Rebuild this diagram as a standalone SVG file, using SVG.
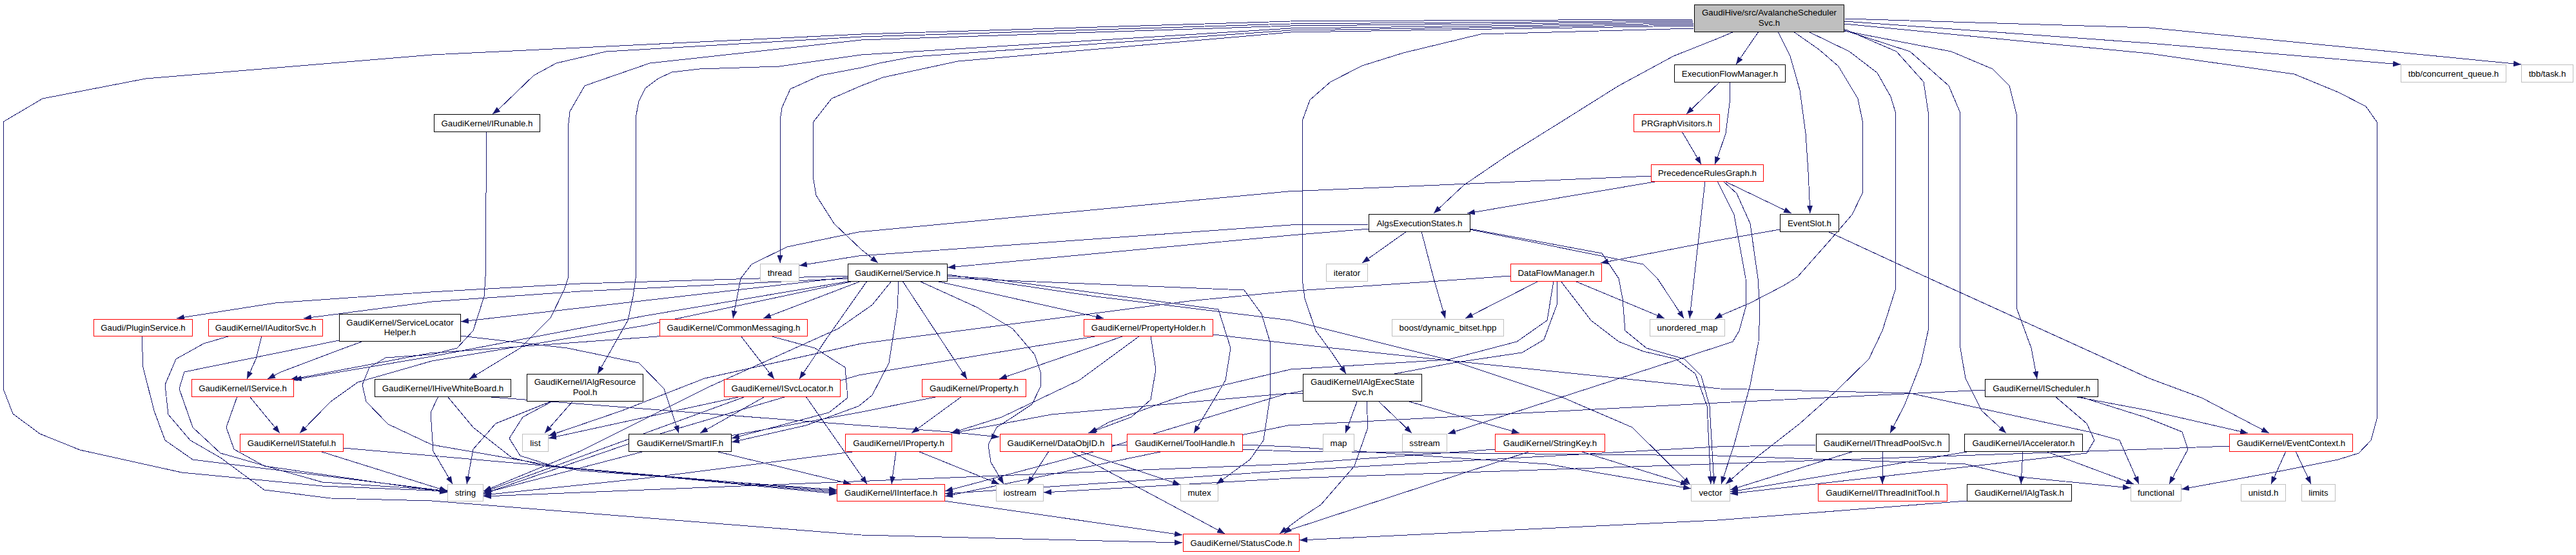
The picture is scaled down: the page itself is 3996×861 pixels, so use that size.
<svg xmlns="http://www.w3.org/2000/svg" width="3996" height="861" viewBox="0 0 3996 861">
<style>
.bk{fill:#fff;stroke:#000;stroke-width:1}
.rd{fill:#fff;stroke:#ff0000;stroke-width:1}
.gy{fill:#fff;stroke:#bfbfbf;stroke-width:1}
.mn{fill:#bfbfbf;stroke:#000;stroke-width:1}
text{font-family:"Liberation Sans",Arial,Helvetica,sans-serif;font-size:13.3px;fill:#000;text-anchor:middle}
#edges path{fill:none;stroke:#191970;stroke-width:1;stroke-linejoin:round;shape-rendering:crispEdges;marker-end:url(#a)}
</style>
<defs>
<marker id="a" viewBox="0 0 12 9" refX="12" refY="4.5" markerWidth="12" markerHeight="9" markerUnits="userSpaceOnUse" orient="auto"><path d="M0,0 L12,4.5 L0,9 z" fill="#191970"/></marker>
</defs>
<rect width="3996" height="861" fill="#fff"/>
<g id="edges">
<path d="M2628,30 L2002,33 L1336,53 L670,85 L226,122 L66,153 L5,189 L5,603 L20,642 L62,673 L124,698 L282,733 L500,754 L694,762"/>
<path d="M2628,32 L2002,37 L1336,57 L940,80 L863,98 L828,117 L773,170 L764,177"/>
<path d="M2628,34 L2002,40 L1336,62 L1008,98 L907,133 L884,173 L881,200 L881,432 L875,450 L854,493 L807,540 L728,588"/>
<path d="M2628,36 L2002,44 L1336,85 L1209,103 L1085,107 L1042,112 L1021,122 L1001,137 L991,157 L986,183 L986,432 L982,460 L974,497 L944,550 L927,580"/>
<path d="M2628,38 L2002,47 L1417,88 L1364,98 L1336,105 L1273,117 L1226,138 L1213,167 L1210,187 L1210,408"/>
<path d="M2628,40 L2002,50 L1486,95 L1370,120 L1336,133 L1290,153 L1261,190 L1261,273 L1266,303 L1294,347 L1336,387 L1362,408"/>
<path d="M2628,44 L2297,53 L2177,82 L2113,102 L2064,127 L2032,155 L2020,188 L2020,432 L2024,463 L2041,513 L2066,547 L2088,580"/>
<path d="M2690,49 L2664,60 L2596,87 L2511,133 L2425,187 L2340,240 L2271,287 L2224,331"/>
<path d="M2728,49 L2693,100"/>
<path d="M2758,49 L2777,87 L2792,140 L2801,207 L2805,267 L2808,331"/>
<path d="M2782,49 L2822,77 L2852,103 L2882,153 L2889,187 L2889,300 L2873,333 L2835,377 L2788,430 L2767,443 L2715,470 L2668,490 L2660,495"/>
<path d="M2805,49 L2869,80 L2912,113 L2933,150 L2940,173 L2940,450 L2920,513 L2899,557 L2848,607 L2792,657 L2728,707 L2677,751"/>
<path d="M2861,45 L2942,80 L2984,127 L2991,173 L2991,513 L2980,563 L2955,627 L2932,672"/>
<path d="M2861,47 L2963,80 L3023,133 L3040,173 L3041,540 L3049,587 L3074,637 L3112,672"/>
<path d="M2861,48 L3027,80 L3091,107 L3117,133 L3128,177 L3129,480 L3151,540 L3160,588"/>
<path d="M2861,29 L3334,43 L3911,100"/>
<path d="M2861,33 L3334,67 L3724,100"/>
<path d="M2861,37 L3334,83 L3559,115 L3627,143 L3670,165 L3687,189 L3687,650 L3678,683 L3659,703 L3627,713 L3542,730 L3384,759"/>
<path d="M2668,127 L2616,177"/>
<path d="M2683,127 L2683,160 L2677,207 L2664,245 L2660,255"/>
<path d="M2609,204 L2639,255"/>
<path d="M2573,281 L2276,331"/>
<path d="M2675,281 L2779,331"/>
<path d="M2562,273 L1998,297 L1332,360 L1221,383 L1166,410 L1149,432 L1137,494"/>
<path d="M2645,281 L2628,432 L2621,494"/>
<path d="M2664,281 L2690,333 L2708,432 L2709,473 L2698,513 L2688,530 L2664,538 L2246,673"/>
<path d="M2673,281 L2694,300 L2715,347 L2727,432 L2730,480 L2728,530 L2715,597 L2690,690 L2670,751"/>
<path d="M2761,356 L2664,373 L2483,408"/>
<path d="M2835,359 L2993,432 L3334,587 L3415,617 L3520,672"/>
<path d="M2182,359 L2113,408"/>
<path d="M2205,359 L2224,432 L2242,494"/>
<path d="M2280,356 L2549,410 L2571,432 L2612,494"/>
<path d="M2280,355 L2485,393 L2511,432 L2517,463 L2521,513 L2554,540 L2613,557 L2639,583 L2652,630 L2659,751"/>
<path d="M2124,348 L2002,349 L1332,397 L1240,412"/>
<path d="M2124,355 L2002,365 L1470,415"/>
<path d="M2387,436 L2273,494"/>
<path d="M2443,436 L2582,494"/>
<path d="M2421,436 L2468,497 L2511,530 L2549,545 L2600,557 L2630,580 L2648,630 L2654,751"/>
<path d="M2410,436 L2400,497 L2353,530 L2246,558 L2002,573 L1845,610 L1720,655 L1690,672"/>
<path d="M2415,436 L2415,473 L2395,527 L2361,547 L2254,563 L2002,610 L1631,643 L1477,672"/>
<path d="M2343,428 L2289,432 L1998,452 L1845,467 L1336,533 L1093,587 L965,637 L851,676"/>
<path d="M1336,436 L1184,494"/>
<path d="M1345,436 L1307,490 L1281,527 L1240,588"/>
<path d="M1316,430 L715,499"/>
<path d="M1316,428 L900,440 L668,453 L427,470 L274,494"/>
<path d="M1316,432 L900,452 L670,468 L471,494"/>
<path d="M1320,436 L1000,490 L670,553 L456,589"/>
<path d="M1325,436 L1000,505 L670,560 L555,593 L513,623 L465,672"/>
<path d="M1400,436 L1500,588"/>
<path d="M1452,436 L1712,494"/>
<path d="M1426,436 L1516,477 L1571,510 L1605,550 L1614,577 L1614,600 L1601,627 L1571,647 L1546,663 L1533,690 L1537,717 L1557,751"/>
<path d="M1394,436 L1392,480 L1379,563 L1353,613 L1332,630 L1250,660 L1135,686"/>
<path d="M1383,436 L1353,473 L1300,510 L1100,600 L900,700 L750,762"/>
<path d="M1470,428 L1533,432 L1890,480 L1909,540 L1901,590 L1852,672"/>
<path d="M1470,431 L1533,434 L1930,450 L1957,487 L1970,530 L1971,610 L1960,683 L1939,713 L1887,751"/>
<path d="M1470,426 L1700,460 L2002,497 L2254,560 L2425,617 L2532,663 L2622,752"/>
<path d="M1882,519 L2002,533 L2254,560 L2668,603 L2963,610 L3241,670 L3288,683 L3318,751"/>
<path d="M1149,521 L1201,588"/>
<path d="M1194,521 L1264,540 L1311,570 L1315,617 L1286,640 L1135,680"/>
<path d="M1033,521 L666,548 L450,589"/>
<path d="M1187,615 L1086,672"/>
<path d="M1150,615 L851,680"/>
<path d="M1157,615 L751,763"/>
<path d="M1250,615 L1345,751"/>
<path d="M1110,700 L1320,751"/>
<path d="M564,529 L526,543 L436,577 L415,588"/>
<path d="M714,521 L880,540 L991,563 L1030,603 L1053,672"/>
<path d="M526,528 L286,577 L278,603 L299,663 L342,703 L500,748 L694,761"/>
<path d="M406,521 L397,557 L383,588"/>
<path d="M357,521 L316,533 L273,557 L256,597 L261,643 L295,683 L342,710 L410,760 L513,773 L670,777 L1336,830 L1834,842"/>
<path d="M220,521 L222,570 L239,637 L256,683 L299,713 L670,759 L694,763"/>
<path d="M387,615 L434,672"/>
<path d="M368,615 L351,663 L363,697 L410,723 L694,764"/>
<path d="M496,700 L694,762"/>
<path d="M532,695 L670,707 L1298,762"/>
<path d="M694,615 L734,663 L794,710 L846,723 L1298,764"/>
<path d="M749,615 L1336,660 L1473,670 L1550,678"/>
<path d="M680,615 L668,640 L672,700 L702,751"/>
<path d="M854,623 L769,657 L734,697 L724,751"/>
<path d="M888,623 L845,672"/>
<path d="M856,623 L811,647 L790,680 L807,707 L858,723 L1298,766"/>
<path d="M755,204 L754,300 L753,430 L751,460 L734,513 L709,540 L670,550 L598,555 L573,570 L562,597 L568,623 L602,658 L670,690 L900,730 L1298,760"/>
<path d="M1492,615 L1414,672"/>
<path d="M1456,615 L1332,640 L1000,700 L750,765"/>
<path d="M1744,521 L1550,588"/>
<path d="M1768,521 L1674,590 L1554,647 L1475,672"/>
<path d="M1785,521 L1793,573 L1785,620 L1755,647 L1688,672"/>
<path d="M1704,521 L1332,582 L1000,680 L750,766"/>
<path d="M1390,700 L1383,751"/>
<path d="M1424,700 L1550,751"/>
<path d="M1330,700 L1000,742 L750,768"/>
<path d="M1627,700 L1594,751"/>
<path d="M1674,700 L1831,752"/>
<path d="M1661,700 L1900,828"/>
<path d="M1724,690 L2002,700 L2664,707 L3049,720 L3134,740 L3305,757"/>
<path d="M1927,690 L2002,693 L2400,720 L2623,758"/>
<path d="M1464,777 L1834,830"/>
<path d="M2451,700 L2619,752"/>
<path d="M2374,700 L1998,823 L1992,828"/>
<path d="M2319,697 L1998,720 L750,770"/>
<path d="M2105,623 L2087,672"/>
<path d="M2139,623 L2190,672"/>
<path d="M2186,623 L2357,672"/>
<path d="M2120,623 L2122,663 L2101,723 L2049,783 L2015,805 L1985,828"/>
<path d="M2022,610 L1998,610 L1700,700 L1466,762"/>
<path d="M2920,700 L2920,751"/>
<path d="M2876,700 L2684,760"/>
<path d="M2817,690 L2664,693 L2000,730 L1466,766"/>
<path d="M3138,700 L3135,751"/>
<path d="M3173,700 L3310,751"/>
<path d="M3057,700 L2684,763"/>
<path d="M3217,615 L3334,637 L3487,672"/>
<path d="M3225,615 L3330,648 L3385,670 L3394,697 L3365,751"/>
<path d="M3188,615 L3237,657 L3249,683 L3237,703 L2684,766"/>
<path d="M3079,605 L2664,625 L1998,660 L1466,770"/>
<path d="M3546,700 L3523,751"/>
<path d="M3561,700 L3585,751"/>
<path d="M3458,692 L3330,697 L2002,742 L1619,764"/>
<path d="M3051,777 L2664,807 L2016,838"/>
</g>
<g id="n_main"><rect class="mn" x="2628.5" y="7.5" width="232" height="42"/><text x="2744.5" y="24">GaudiHive/src/AvalancheScheduler</text><text x="2744.5" y="40">Svc.h</text></g>
<g id="n_efm"><rect class="bk" x="2597.5" y="100.5" width="172" height="27"/><text x="2683.5" y="118.5">ExecutionFlowManager.h</text></g>
<g id="n_irunable"><rect class="bk" x="673.5" y="177.5" width="164" height="27"/><text x="755.5" y="195.5">GaudiKernel/IRunable.h</text></g>
<g id="n_prgv"><rect class="rd" x="2534.5" y="177.5" width="133" height="27"/><text x="2601" y="195.5">PRGraphVisitors.h</text></g>
<g id="n_prg"><rect class="rd" x="2561.5" y="255.5" width="174" height="26"/><text x="2648.5" y="273">PrecedenceRulesGraph.h</text></g>
<g id="n_aes"><rect class="bk" x="2123.5" y="332.5" width="157" height="27"/><text x="2202" y="350.5">AlgsExecutionStates.h</text></g>
<g id="n_eventslot"><rect class="bk" x="2761.5" y="332.5" width="91" height="27"/><text x="2807" y="350.5">EventSlot.h</text></g>
<g id="n_thread"><rect class="gy" x="1179.5" y="409.5" width="60" height="27"/><text x="1209.5" y="427.5">thread</text></g>
<g id="n_service"><rect class="bk" x="1315.5" y="409.5" width="154" height="27"/><text x="1392.5" y="427.5">GaudiKernel/Service.h</text></g>
<g id="n_iterator"><rect class="gy" x="2057.5" y="409.5" width="64" height="27"/><text x="2089.5" y="427.5">iterator</text></g>
<g id="n_dfm"><rect class="rd" x="2343.5" y="409.5" width="141" height="27"/><text x="2414" y="427.5">DataFlowManager.h</text></g>
<g id="n_tbbq"><rect class="gy" x="3724.5" y="100.5" width="163" height="27"/><text x="3806" y="118.5">tbb/concurrent_queue.h</text></g>
<g id="n_tbbtask"><rect class="gy" x="3911.5" y="100.5" width="80" height="27"/><text x="3951.5" y="118.5">tbb/task.h</text></g>
<g id="n_plugin"><rect class="rd" x="145.5" y="495.5" width="153" height="26"/><text x="222" y="513">Gaudi/PluginService.h</text></g>
<g id="n_iauditorsvc"><rect class="rd" x="323.5" y="495.5" width="177" height="26"/><text x="412" y="513">GaudiKernel/IAuditorSvc.h</text></g>
<g id="n_slh"><rect class="bk" x="526.5" y="487.5" width="188" height="42"/><text x="620.5" y="504.5">GaudiKernel/ServiceLocator</text><text x="620.5" y="520">Helper.h</text></g>
<g id="n_cm"><rect class="rd" x="1023.5" y="495.5" width="229" height="26"/><text x="1138" y="513">GaudiKernel/CommonMessaging.h</text></g>
<g id="n_ph"><rect class="rd" x="1681.5" y="495.5" width="200" height="26"/><text x="1781.5" y="513">GaudiKernel/PropertyHolder.h</text></g>
<g id="n_boost"><rect class="gy" x="2159.5" y="495.5" width="173" height="26"/><text x="2246" y="513">boost/dynamic_bitset.hpp</text></g>
<g id="n_umap"><rect class="gy" x="2559.5" y="495.5" width="116" height="26"/><text x="2617.5" y="513">unordered_map</text></g>
<g id="n_iservice"><rect class="rd" x="297.5" y="588.5" width="158" height="27"/><text x="376.5" y="606.5">GaudiKernel/IService.h</text></g>
<g id="n_ihwb"><rect class="bk" x="581.5" y="588.5" width="211" height="27"/><text x="687" y="606.5">GaudiKernel/IHiveWhiteBoard.h</text></g>
<g id="n_iarp"><rect class="bk" x="817.5" y="580.5" width="180" height="42"/><text x="907.5" y="597">GaudiKernel/IAlgResource</text><text x="907.5" y="613">Pool.h</text></g>
<g id="n_isvclocator"><rect class="rd" x="1123.5" y="588.5" width="180" height="27"/><text x="1213.5" y="606.5">GaudiKernel/ISvcLocator.h</text></g>
<g id="n_property"><rect class="rd" x="1430.5" y="588.5" width="161" height="27"/><text x="1511" y="606.5">GaudiKernel/Property.h</text></g>
<g id="n_iaes"><rect class="bk" x="2021.5" y="580.5" width="184" height="42"/><text x="2113.5" y="597">GaudiKernel/IAlgExecState</text><text x="2113.5" y="613">Svc.h</text></g>
<g id="n_ischeduler"><rect class="bk" x="3079.5" y="588.5" width="175" height="27"/><text x="3167" y="606.5">GaudiKernel/IScheduler.h</text></g>
<g id="n_istateful"><rect class="rd" x="372.5" y="673.5" width="160" height="27"/><text x="452.5" y="691.5">GaudiKernel/IStateful.h</text></g>
<g id="n_list"><rect class="gy" x="810.5" y="673.5" width="40" height="27"/><text x="830.5" y="691.5">list</text></g>
<g id="n_smartif"><rect class="bk" x="975.5" y="673.5" width="159" height="27"/><text x="1055" y="691.5">GaudiKernel/SmartIF.h</text></g>
<g id="n_iproperty"><rect class="rd" x="1311.5" y="673.5" width="165" height="27"/><text x="1394" y="691.5">GaudiKernel/IProperty.h</text></g>
<g id="n_dataobjid"><rect class="rd" x="1551.5" y="673.5" width="173" height="27"/><text x="1638" y="691.5">GaudiKernel/DataObjID.h</text></g>
<g id="n_toolhandle"><rect class="rd" x="1748.5" y="673.5" width="179" height="27"/><text x="1838" y="691.5">GaudiKernel/ToolHandle.h</text></g>
<g id="n_map"><rect class="gy" x="2052.5" y="673.5" width="48" height="27"/><text x="2076.5" y="691.5">map</text></g>
<g id="n_sstream"><rect class="gy" x="2175.5" y="673.5" width="69" height="27"/><text x="2210" y="691.5">sstream</text></g>
<g id="n_stringkey"><rect class="rd" x="2319.5" y="673.5" width="170" height="27"/><text x="2404.5" y="691.5">GaudiKernel/StringKey.h</text></g>
<g id="n_itps"><rect class="bk" x="2817.5" y="673.5" width="206" height="27"/><text x="2920.5" y="691.5">GaudiKernel/IThreadPoolSvc.h</text></g>
<g id="n_iacc"><rect class="bk" x="3047.5" y="673.5" width="183" height="27"/><text x="3139" y="691.5">GaudiKernel/IAccelerator.h</text></g>
<g id="n_eventcontext"><rect class="rd" x="3458.5" y="673.5" width="191" height="27"/><text x="3554" y="691.5">GaudiKernel/EventContext.h</text></g>
<g id="n_string"><rect class="gy" x="694.5" y="751.5" width="55" height="26"/><text x="722" y="769">string</text></g>
<g id="n_iinterface"><rect class="rd" x="1298.5" y="751.5" width="167" height="26"/><text x="1382" y="769">GaudiKernel/IInterface.h</text></g>
<g id="n_iostream"><rect class="gy" x="1545.5" y="751.5" width="73" height="26"/><text x="1582" y="769">iostream</text></g>
<g id="n_mutex"><rect class="gy" x="1831.5" y="751.5" width="58" height="26"/><text x="1860.5" y="769">mutex</text></g>
<g id="n_vector"><rect class="gy" x="2623.5" y="751.5" width="60" height="26"/><text x="2653.5" y="769">vector</text></g>
<g id="n_itit"><rect class="rd" x="2820.5" y="751.5" width="200" height="26"/><text x="2920.5" y="769">GaudiKernel/IThreadInitTool.h</text></g>
<g id="n_ialgtask"><rect class="bk" x="3051.5" y="751.5" width="162" height="26"/><text x="3132.5" y="769">GaudiKernel/IAlgTask.h</text></g>
<g id="n_functional"><rect class="gy" x="3305.5" y="751.5" width="78" height="26"/><text x="3344.5" y="769">functional</text></g>
<g id="n_unistd"><rect class="gy" x="3476.5" y="751.5" width="69" height="26"/><text x="3511" y="769">unistd.h</text></g>
<g id="n_limits"><rect class="gy" x="3570.5" y="751.5" width="52" height="26"/><text x="3596.5" y="769">limits</text></g>
<g id="n_statuscode"><rect class="rd" x="1835.5" y="828.5" width="180" height="27"/><text x="1925.5" y="846.5">GaudiKernel/StatusCode.h</text></g>
</svg>
